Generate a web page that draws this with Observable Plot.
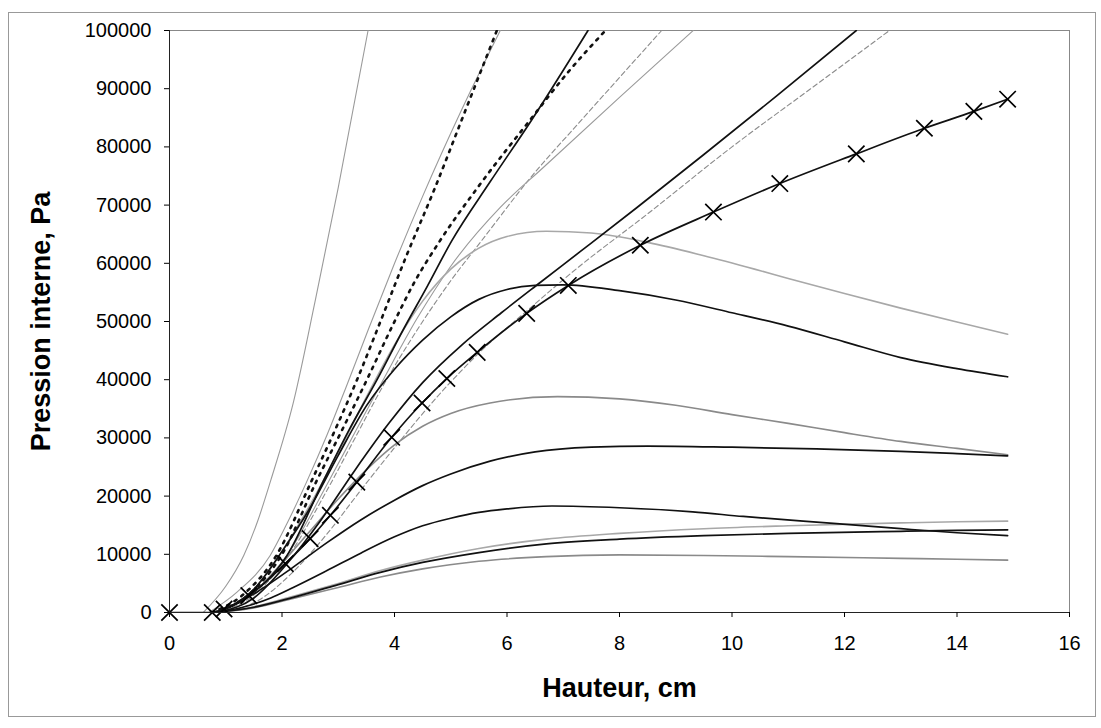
<!DOCTYPE html>
<html>
<head>
<meta charset="utf-8">
<script src="https://cdn.jsdelivr.net/npm/d3@7"></script>
<script src="https://cdn.jsdelivr.net/npm/@observablehq/plot@0.6"></script>
<style>
  html, body { margin: 0; padding: 0; background: #fff; }
  #chart { width: 1101px; height: 728px; }
</style>
</head>
<body>
<div id="chart"></div>
<script>
// ---- Axis ticks ----
const xTicks = [0, 2, 4, 6, 8, 10, 12, 14, 16];
const yTicks = [0, 10000, 20000, 30000, 40000, 50000, 60000, 70000, 80000, 90000, 100000];
const xLabel = "Hauteur, cm";
const yLabel = "Pression interne, Pa";

// ---- Series (Hauteur cm, Pression Pa) ----
const aX = [0.6, 1.0, 1.32, 1.56, 1.8, 2.2, 2.6, 3.0, 3.53];
const aY = [0, 4500, 9800, 15500, 22700, 36000, 54000, 73000, 100000];

const bX = [0.7, 1.2, 1.79, 2.1, 2.45, 2.8, 3.13, 3.55, 3.98, 4.5, 5.2, 5.88];
const bY = [0, 3500, 9800, 15500, 22700, 30500, 38500, 49000, 59500, 71500, 86500, 100000];

const cX = [0.75, 1.3, 1.9, 2.53, 2.95, 3.33, 3.75, 4.2, 4.7, 5.25, 5.82];
const cY = [0, 3000, 9800, 22700, 31500, 39900, 50000, 61000, 72500, 86000, 100000];

const dX = [0.8, 1.4, 2.0, 2.62, 3.05, 3.51, 3.95, 4.34, 4.81, 5.5, 6.4, 7.1, 7.75];
const dY = [0, 3000, 10000, 22700, 31000, 40000, 49000, 56500, 63900, 73300, 84500, 93000, 100000];

const eX = [0.8, 1.4, 2.09, 2.74, 3.2, 3.69, 4.15, 4.58, 5.02, 5.7, 6.43, 7.44];
const eY = [0, 2800, 9800, 22700, 31500, 40000, 48500, 56000, 63900, 74000, 84500, 100000];

const fX = [0.85, 1.5, 2.1, 2.8, 3.3, 3.8, 4.4, 5.0, 5.55, 6.4, 7.36, 8.75];
const fY = [0, 3000, 9500, 21000, 30000, 39000, 48500, 57000, 63900, 74500, 85000, 100000];

const gX = [0.85, 1.5, 2.1, 2.8, 3.3, 3.8, 4.4, 5.0, 5.88, 6.65, 8.0, 9.31];
const gY = [0, 3500, 10000, 22000, 31000, 40000, 50500, 59500, 69600, 76500, 88500, 100000];

const hX = [0.85, 1.5, 2.1, 2.7, 3.3, 3.9, 4.5, 5.2, 5.9, 6.59, 7.3, 8.3, 9.5, 10.8, 12.21];
const hY = [0, 2500, 8500, 16000, 24500, 32500, 39500, 46000, 51500, 56700, 62000, 69500, 78700, 88800, 100000];

const iX = [0.9, 1.6, 2.2, 2.8, 3.4, 4.1, 4.8, 5.6, 6.35, 7.24, 8.5, 10.0, 11.4, 12.8];
const iY = [0, 2200, 7000, 13500, 21000, 29500, 37500, 45500, 51800, 59100, 68500, 80000, 90000, 100000];

// series with X markers
const jX = [0, 0.76, 0.97, 1.41, 2.06, 2.5, 2.86, 3.33, 3.95, 4.49, 4.93, 5.47, 6.35, 7.09, 8.37, 9.67, 10.85, 12.21, 13.42, 14.3, 14.9];
const jY = [0, 0, 600, 2900, 8400, 12700, 16700, 22400, 30100, 36000, 40200, 44700, 51400, 56200, 63100, 68800, 73700, 78800, 83200, 86100, 88200];

const kX = [0.85, 1.5, 2.0, 2.5, 3.0, 3.5, 4.0, 4.5, 5.0, 5.5, 6.0, 6.7, 7.5, 8.5, 9.5, 10.4, 11.0, 12.0, 13.0, 14.0, 14.9];
const kY = [0, 4000, 10500, 18500, 27500, 37000, 46000, 53500, 59000, 62600, 64600, 65500, 65200, 63600, 61300, 59000, 57400, 54800, 52300, 49900, 47800];

const lX = [0.85, 1.5, 2.0, 2.5, 3.0, 3.5, 4.0, 4.5, 5.0, 5.5, 6.0, 6.5, 7.0, 8.0, 9.0, 10.0, 11.0, 12.0, 13.0, 14.0, 14.9];
const lY = [0, 4000, 10500, 18000, 27000, 35500, 41800, 46800, 50800, 53800, 55500, 56200, 56300, 55300, 53700, 51500, 49200, 46500, 43800, 41900, 40500];

const mX = [0.85, 1.5, 2.0, 2.5, 3.0, 3.5, 4.0, 4.5, 5.0, 5.7, 6.9, 8.0, 9.0, 10.0, 11.0, 12.0, 13.0, 14.0, 14.9];
const mY = [0, 3500, 8500, 14000, 19500, 24500, 28800, 32000, 34200, 36000, 37100, 36700, 35600, 34000, 32500, 30900, 29400, 28200, 27100];

const nX = [0.85, 1.2, 1.6, 2.2, 2.8, 3.4, 4.0, 4.5, 5.0, 5.7, 6.5, 7.5, 8.5, 10.0, 11.5, 13.0, 14.0, 14.9];
const nY = [0, 1500, 3800, 7800, 12000, 15900, 19300, 21800, 23800, 26000, 27600, 28400, 28600, 28400, 28100, 27700, 27300, 26900];

const oX = [0.85, 1.3, 1.8, 2.2, 2.8, 3.4, 4.0, 4.5, 5.0, 5.5, 6.0, 6.8, 8.0, 9.3, 10.2, 11.8, 13.0, 14.0, 14.9];
const oY = [0, 900, 2500, 4300, 7200, 10200, 13000, 14900, 16200, 17200, 17800, 18300, 18000, 17300, 16500, 15300, 14400, 13700, 13200];

const lowX = [0.8, 1.5, 2.2, 3.0, 3.75, 4.5, 5.5, 6.7, 8.0, 9.5, 11.0, 13.0, 14.0, 14.9];
const pY = [0, 900, 2600, 4800, 6900, 8600, 10300, 11800, 12600, 13200, 13600, 13950, 14100, 14200];
const qY = [0, 1000, 2800, 5000, 7200, 9000, 11000, 12600, 13600, 14400, 14900, 15400, 15600, 15700];
const rY = [0, 800, 2400, 4300, 6100, 7500, 8800, 9600, 9900, 9800, 9600, 9300, 9150, 9000];

// ---- build tables ----
const pts = (xs, ys) => xs.map((x, i) => ({x, y: ys[i]}));

const grayThin = {stroke: "#9a9a9a", strokeWidth: 1.1};
const grayDash = {stroke: "#8c8c8c", strokeWidth: 1.1, strokeDasharray: "5,3"};
const grayMid = {stroke: "#8a8a8a", strokeWidth: 1.6};
const grayLight = {stroke: "#a8a8a8", strokeWidth: 1.6};
const black = {stroke: "#111", strokeWidth: 1.7};
const dotted = {stroke: "#111", strokeWidth: 2.6, strokeDasharray: "2.5,6", strokeLinecap: "round"};

const series = [
  [pts(aX, aY), grayThin],
  [pts(bX, bY), grayThin],
  [pts(fX, fY), grayDash],
  [pts(gX, gY), grayThin],
  [pts(iX, iY), grayDash],
  [pts(kX, kY), grayLight],
  [pts(mX, mY), grayMid],
  [pts(lowX, qY), grayLight],
  [pts(lowX, rY), grayMid],
  [pts(cX, cY), dotted],
  [pts(dX, dY), dotted],
  [pts(eX, eY), black],
  [pts(hX, hY), black],
  [pts(lX, lY), black],
  [pts(nX, nY), black],
  [pts(oX, oY), black],
  [pts(lowX, pY), black],
  [pts(jX, jY), black]
];
const jPts = pts(jX, jY);

const font = "'Liberation Sans', Arial, sans-serif";

const chart = Plot.plot({
  width: 1101,
  height: 728,
  marginLeft: 169,
  marginRight: 32,
  marginTop: 30,
  marginBottom: 116,
  style: {fontFamily: font, background: "#fff", color: "#000", overflow: "visible"},
  x: {domain: [0, 16]},
  y: {domain: [0, 100000]},
  marks: [
    Plot.frame({stroke: "#888", strokeWidth: 1}),
    ...series.map(([data, st]) => Plot.line(data, {x: "x", y: "y", curve: "monotone-x", clip: true, ...st})),
    Plot.dot(jPts, {x: "x", y: "y", symbol: "times", r: 7.5, stroke: "#000", strokeWidth: 1.7}),
    Plot.ruleX([0], {stroke: "#222", strokeWidth: 1}),
    Plot.ruleY([0], {stroke: "#222", strokeWidth: 1}),
    Plot.axisX({ticks: xTicks, tickSize: 5, tickPadding: 18, fontSize: 20, label: null, tickFormat: d => String(d)}),
    Plot.axisY({ticks: yTicks, tickSize: 5, tickPadding: 13, fontSize: 20, label: null, tickFormat: d => String(d)}),
    Plot.text([yLabel], {frameAnchor: "left", textAnchor: "middle", lineAnchor: "middle", dx: -128, rotate: -90, fontSize: 27, fontWeight: "bold", fill: "#000"}),
    Plot.text([xLabel], {frameAnchor: "bottom", textAnchor: "middle", lineAnchor: "middle", dy: 76, fontSize: 27, fontWeight: "bold", fill: "#000"})
  ]
});

d3.select(chart).append("rect")
  .attr("x", 8.5).attr("y", 12.5).attr("width", 1087).attr("height", 704)
  .attr("fill", "none").attr("stroke", "#999").attr("stroke-width", 1);

document.getElementById("chart").appendChild(chart);
</script>
</body>
</html>
